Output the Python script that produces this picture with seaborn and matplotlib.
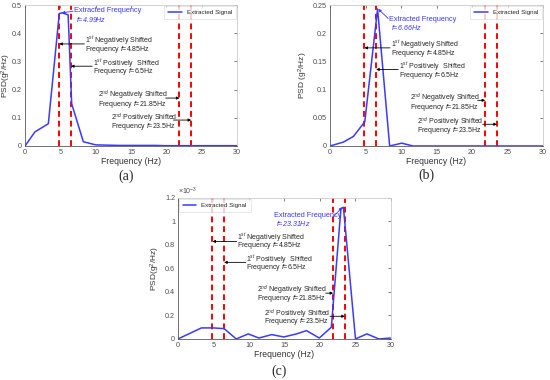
import numpy as np
import pandas as pd
import seaborn as sns
import matplotlib.pyplot as plt
from matplotlib.ticker import FuncFormatter

# spectra
freq_a = [0, 1.4, 3.3, 4.85, 5.3, 6.1, 6.6, 8.25, 10, 11.67, 13.33, 15, 16.67, 18.33, 20, 21.67, 23.33, 25, 26.67, 28.33, 30]
psd_a = [0, 0.05, 0.079, 0.47, 0.472, 0.465, 0.15, 0.015, 0.004, 0.003, 0.002, 0.002, 0.002, 0.002, 0.001, 0.001, 0.001, 0.001, 0.001, 0.001, 0.001]

freq_b = [0, 1.9, 3.3, 4.9, 6.7, 8.4, 10.1, 11.7, 13.33, 15, 16.67, 18.33, 20, 21.67, 23.33, 25, 26.67, 28.33, 30]
psd_b = [0, 0.007, 0.017, 0.043, 0.243, 0.0, 0.005, 0.0, 0, 0, 0, 0, 0, 0, 0, 0, 0, 0, 0]

freq_c = [0, 3.3, 4.95, 6.5, 8.2, 9.9, 11.4, 13.2, 14.9, 16.7, 18.1, 19.9, 21.6, 22.95, 23.3, 25, 26.6, 28.3, 30]
psd_c = [0, 0.094e-3, 0.094e-3, 0.088e-3, 0.0, 0.043e-3, 0.008e-3, 0.037e-3, 0.017e-3, 0.043e-3, 0.071e-3,
         0.008e-3, 0.1e-3, 1.11e-3, 1.12e-3, 0.0, 0.043e-3, 0.0, 0.008e-3]

shift_freqs = [4.85, 6.5, 21.85, 23.5]
shift_top = ["1$^{st}$ Negatively Shifted", "1$^{st}$ Positively  Shifted",
             "2$^{nd}$ Negatively Shifted", "2$^{nd}$ Positively Shifted"]
shift_bottom = ["Frequency $\\it{f}$=4.85Hz", "Frequency $\\it{f}$=6.5Hz",
                "Frequency $\\it{f}$=21.85Hz", "Frequency $\\it{f}$=23.5Hz"]
extracted = ["4.99", "6.66", "23.31"]

sns.set_theme(style="white")
plt.rcParams['font.family'] = ['Liberation Sans', 'DejaVu Sans']
plt.rcParams['mathtext.fontset'] = 'custom'
plt.rcParams['mathtext.rm'] = 'Liberation Sans'
plt.rcParams['mathtext.it'] = 'Liberation Sans:italic'

BLUE = "#3a3aff"
FS = 5.0

fig = plt.figure(figsize=(5.5, 3.8), dpi=100)
ax_a = fig.add_axes([0.0455, 0.6158, 0.3855, 0.371])
ax_b = fig.add_axes([0.600, 0.6158, 0.3873, 0.371])
ax_c = fig.add_axes([0.3236, 0.108, 0.3873, 0.371])


def panel(ax, freq, psd, ymax, ystep, ylabel, ylab_x, legend_loc, scale=1.0):
    sns.lineplot(x=freq, y=psd, ax=ax, color=BLUE, lw=1.1, label="Extracted Signal")
    for f in shift_freqs:
        ax.axvline(f, color="red", lw=1.4, ls=(0, (3, 2)), zorder=1)
    ax.set_xlim(0, 30)
    ax.set_ylim(0, ymax)
    ax.set_xticks(np.arange(0, 31, 5))
    ax.set_yticks(np.arange(0, ymax + ystep / 2, ystep))
    ax.yaxis.set_major_formatter(FuncFormatter(lambda v, p: f"{v * scale:g}"))
    ax.tick_params(direction="in", length=2, width=0.5, labelsize=5.2, pad=2,
                   top=True, right=True, colors="0.3")
    ax.set_xlabel("Frequency (Hz)", fontsize=6.2, labelpad=1, color="0.2")
    ax.set_ylabel(ylabel, fontsize=6.0, color="0.2")
    ax.yaxis.set_label_coords(ylab_x, 0.5)
    for side in ["bottom", "left"]:
        ax.spines[side].set_color("0.35")
        ax.spines[side].set_linewidth(0.6)
    for side in ["top", "right"]:
        ax.spines[side].set_color("0.8")
        ax.spines[side].set_linewidth(0.6)
    leg = ax.legend(loc=legend_loc, fontsize=4.5, frameon=True, borderaxespad=0.15,
                    handlelength=2.2, fancybox=False, borderpad=0.6)
    leg.get_frame().set_edgecolor("0.85")
    leg.get_frame().set_linewidth(0.5)


def note(ax, i, tx, y1, y2, ax0, ay):
    ax.text(tx, y1, shift_top[i], fontsize=FS, va="center", ha="left", color="0.15")
    ax.text(tx, y2, shift_bottom[i], fontsize=FS, va="center", ha="left", color="0.15")
    ax.annotate("", xy=(shift_freqs[i], ay), xytext=(ax0, ay),
                arrowprops=dict(arrowstyle="-|>", color="black", lw=0.6,
                                mutation_scale=4, shrinkA=0, shrinkB=0))


def ext_note(ax, val, tx, y1, y2, start, end):
    ax.text(tx, y1, "Extracted Frequency", fontsize=5.3, va="center", ha="left", color=BLUE)
    ax.text(tx + 0.3, y2, f"$\\it{{f}}$={val}Hz", fontsize=5.1, va="center", ha="left",
            color=BLUE, style="italic")
    ax.annotate("", xy=end, xytext=start,
                arrowprops=dict(arrowstyle="-|>", color=BLUE, lw=0.6,
                                mutation_scale=4, shrinkA=0, shrinkB=0))


# (a)
panel(ax_a, freq_a, psd_a, 0.5, 0.1, "PSD(g$^2$/Hz)", -0.058, "upper right")
ext_note(ax_a, extracted[0], 6.9, 0.48, 0.45, (6.8, 0.478), (5.2, 0.472))
note(ax_a, 0, 8.5, 0.373, 0.342, 8.4, 0.362)
note(ax_a, 1, 9.6, 0.293, 0.263, 9.5, 0.283)
note(ax_a, 2, 10.3, 0.178, 0.148, 19.9, 0.17)
note(ax_a, 3, 12.1, 0.098, 0.070, 21.0, 0.092)

# (b)
panel(ax_b, freq_b, psd_b, 0.25, 0.05, "PSD (g$^2$/Hz)", -0.094, "upper right")
ext_note(ax_b, extracted[1], 8.3, 0.225, 0.21, (8.2, 0.226), (6.8, 0.243))
note(ax_b, 0, 8.55, 0.179, 0.164, 8.45, 0.174)
note(ax_b, 1, 9.7, 0.140, 0.1256, 9.6, 0.1357)
note(ax_b, 2, 11.25, 0.084, 0.069, 20.8, 0.081)
note(ax_b, 3, 12.2, 0.0427, 0.028, 21.5, 0.0385)

# (c)
panel(ax_c, freq_c, psd_c, 1.2e-3, 0.2e-3, "PSD(g$^2$/Hz)", -0.075, "upper left", scale=1e3)
ax_c.text(0.0, 1.01, "×10$^{-3}$", transform=ax_c.transAxes, fontsize=5.0, color="0.3",
          ha="left", va="bottom")
ext_note(ax_c, extracted[2], 13.5, 1.05e-3, 0.98e-3, (21.9, 1.04e-3), (23.1, 1.12e-3))
note(ax_c, 0, 8.35, 0.86e-3, 0.794e-3, 8.25, 0.83e-3)
note(ax_c, 1, 9.65, 0.675e-3, 0.61e-3, 9.55, 0.652e-3)
note(ax_c, 2, 11.1, 0.411e-3, 0.343e-3, 20.8, 0.39e-3)
note(ax_c, 3, 12.1, 0.213e-3, 0.145e-3, 21.4, 0.193e-3)

for lbl, x, y in [("(a)", 0.229, 0.535), ("(b)", 0.775, 0.540), ("(c)", 0.507, 0.022)]:
    fig.text(x, y, lbl, fontsize=10, family="Liberation Serif", ha="center", va="center")

fig.savefig("out.png", dpi=100)
